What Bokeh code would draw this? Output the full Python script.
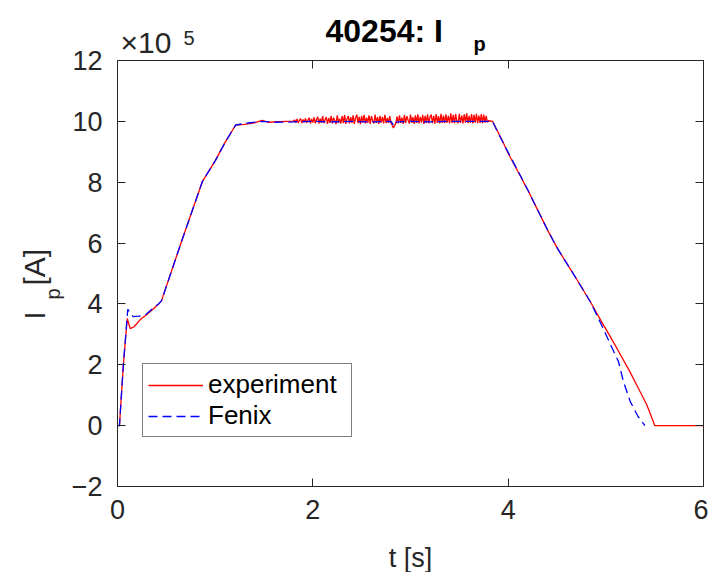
import numpy as np
from bokeh.plotting import figure
from bokeh.models import Range1d, LinearAxis, FixedTicker, Label, Legend, LegendItem
from bokeh.embed import file_html
from bokeh.resources import INLINE

# ---------------- data (Ip in units of 1e5 A) ----------------
t_exp_start = [0.0, 0.02, 0.06, 0.10, 0.13, 0.17, 0.235, 0.30, 0.36, 0.42, 0.45,
               0.65, 0.87, 1.00, 1.10, 1.21, 1.30, 1.40, 1.48, 1.55, 1.65, 1.75]
ip_exp_start = [0.0, 0.0, 2.0, 3.52, 3.19, 3.25, 3.49, 3.65, 3.82, 4.00, 4.10,
                6.00, 8.03, 8.70, 9.30, 9.88, 9.90, 9.95, 10.03, 9.97, 9.99, 10.00]

# noisy flat-top, sampled every 0.0125 s from 1.80 s to 3.80 s
ip_exp_flat = [
    10.00, 10.05, 9.96, 10.08, 9.95, 10.03, 10.09, 9.94, 10.06, 9.97,
    10.10, 9.95, 10.04, 10.12, 9.93, 10.08, 9.96, 10.13, 9.94, 10.06,
    10.15, 9.93, 10.09, 9.95, 10.17, 9.94, 10.05, 10.14, 9.92, 10.11,
    9.95, 10.18, 9.93, 10.12, 10.03, 9.91, 10.20, 9.95, 10.09, 9.93,
    10.17, 9.94, 10.21, 9.92, 10.08, 10.18, 9.93, 10.14, 9.95, 10.20,
    9.92, 10.11, 10.22, 9.94, 10.15, 9.91, 10.18, 9.96, 10.21, 9.93,
    10.12, 9.95, 10.20, 9.92, 10.17, 10.03, 9.93, 10.22, 9.95, 10.14,
    9.92, 10.18, 9.96, 10.15, 9.93, 10.21, 9.94, 10.11, 9.95, 10.17,
    9.94, 9.88, 9.78, 9.86, 9.95, 10.16, 9.93, 10.20, 9.95, 10.12,
    9.92, 10.21, 9.94, 10.17, 10.04, 9.93, 10.22, 9.95, 10.14, 9.92,
    10.20, 9.95, 10.23, 9.93, 10.15, 9.96, 10.21, 9.92, 10.18, 9.95,
    10.23, 9.93, 10.14, 10.22, 9.94, 10.18, 9.92, 10.24, 9.95, 10.17,
    9.93, 10.25, 9.95, 10.19, 9.94, 10.23, 9.96, 10.18, 9.93, 10.26,
    9.95, 10.21, 9.93, 10.24, 10.00, 9.94, 10.25, 9.95, 10.19, 9.93,
    10.23, 9.96, 10.26, 9.94, 10.18, 9.95, 10.24, 9.93, 10.21, 9.96,
    10.25, 9.94, 10.19, 9.95, 10.24, 9.93, 10.22, 9.96, 10.18, 9.97,
    10.02]
t_exp_flat = list(np.round(1.80 + 0.0125 * np.arange(len(ip_exp_flat)), 4))

t_exp_end = [3.84, 3.90, 3.95, 4.00, 4.05, 4.10, 4.20, 4.30, 4.40, 4.50, 4.60,
             4.70, 4.84, 4.95, 5.05, 5.15, 5.25, 5.35, 5.42, 5.46, 5.49, 5.50, 6.00]
ip_exp_end = [10.00, 9.62, 9.30, 8.95, 8.65, 8.35, 7.75, 7.10, 6.45, 5.85, 5.33,
              4.82, 4.08, 3.45, 2.90, 2.33, 1.75, 1.12, 0.68, 0.35, 0.10, 0.0, 0.0]

t_exp = t_exp_start + t_exp_flat + t_exp_end
ip_exp = ip_exp_start + ip_exp_flat + ip_exp_end

t_fenix = [0.0, 0.02, 0.06, 0.105, 0.16, 0.22, 0.29, 0.36, 0.42, 0.45, 0.65, 0.87,
           1.00, 1.10, 1.21, 1.30, 1.48, 1.60, 1.80, 2.00, 2.20, 2.40, 2.60, 2.80,
           2.83, 2.86, 3.00, 3.20, 3.40, 3.60, 3.84, 3.90, 4.00, 4.10, 4.20, 4.30,
           4.40, 4.50, 4.60, 4.70, 4.84, 4.95, 5.05, 5.13, 5.18, 5.25, 5.33, 5.40]
ip_fenix = [0.0, 0.0, 2.0, 3.82, 3.58, 3.60, 3.65, 3.85, 4.00, 4.10, 6.00, 8.03,
            8.70, 9.30, 9.88, 9.93, 10.00, 9.97, 9.98, 10.00, 9.98, 10.00, 9.98, 10.00,
            9.85, 9.98, 10.00, 9.98, 10.00, 10.00, 10.00, 9.60, 8.98, 8.37, 7.75, 7.10,
            6.45, 5.85, 5.33, 4.82, 4.08, 3.35, 2.65, 2.10, 1.45, 0.79, 0.30, 0.0]

x_ticks = [0, 2, 4, 6]
y_ticks = [-2, 0, 2, 4, 6, 8, 10, 12]
x_lim = (0, 6)
y_lim = (-2, 12)

FONT = "Liberation Sans"
AX = "#262626"
W, H = 708, 572
# axes box in pixels: left 117, right 703, top 60, bottom 486
px_per_x = (703 - 117) / (x_lim[1] - x_lim[0])
px_per_y = (486 - 60) / (y_lim[1] - y_lim[0])
x_rng = Range1d(x_lim[0] - 117 / px_per_x, x_lim[1] + (W - 703) / px_per_x)
y_rng = Range1d(y_lim[0] - (H - 486) / px_per_y, y_lim[1] + 60 / px_per_y)

p = figure(width=W, height=H, output_backend="svg", toolbar_location=None,
           x_range=x_rng, y_range=y_rng, x_axis_location=None, y_axis_location=None,
           min_border=0, background_fill_color="white", border_fill_color="white")
p.outline_line_color = None
p.grid.visible = False

ax_b = LinearAxis(fixed_location=y_lim[0], bounds=x_lim, ticker=FixedTicker(ticks=x_ticks))
ax_t = LinearAxis(fixed_location=y_lim[1], bounds=x_lim, ticker=FixedTicker(ticks=x_ticks))
ax_l = LinearAxis(fixed_location=x_lim[0], bounds=y_lim, ticker=FixedTicker(ticks=y_ticks))
ax_r = LinearAxis(fixed_location=x_lim[1], bounds=y_lim, ticker=FixedTicker(ticks=y_ticks))
p.add_layout(ax_b, "below")
p.add_layout(ax_t, "above")
p.add_layout(ax_l, "left")
p.add_layout(ax_r, "right")

for ax in (ax_b, ax_t, ax_l, ax_r):
    ax.axis_line_color = AX
    ax.major_tick_line_color = AX
    ax.major_tick_in = 8
    ax.major_tick_out = 0
    ax.minor_tick_line_color = None
    ax.major_label_text_font = FONT
    ax.major_label_text_font_size = "27px"
    ax.major_label_text_color = AX
for ax in (ax_t, ax_r):
    ax.major_label_text_color = None

ax_b.major_label_standoff = 13
ax_l.major_label_standoff = 15

r_exp = p.line(t_exp, ip_exp, line_color="#ff0000", line_width=1.3)
r_fen = p.line(t_fenix, ip_fenix, line_color="#0000ff", line_width=1.3,
               line_dash="9 5")

legend = Legend(items=[LegendItem(label="experiment", renderers=[r_exp]),
                       LegendItem(label="Fenix", renderers=[r_fen])],
                location=(142, H - 437), orientation="vertical",
                label_text_font=FONT, label_text_font_size="26px",
                label_text_color="black", glyph_width=55, glyph_height=30,
                label_height=30, label_width=138, spacing=0, padding=5, margin=0,
                label_standoff=5, border_line_color="black",
                border_line_width=1, background_fill_color="white",
                background_fill_alpha=1.0)
p.add_layout(legend)

def lab(x, y, text, size, bold=False, angle=0.0, color=AX, align="left"):
    # x, y: canvas pixels measured from the top-left corner
    p.add_layout(Label(x=x, y=H - y, x_units="screen", y_units="screen", text=text,
                       text_font=FONT, text_font_size=size,
                       text_font_style="bold" if bold else "normal",
                       text_color=color, text_align=align,
                       text_baseline="alphabetic", angle=angle))

# multiplier
lab(120, 42, "\u00d710", "30px")
lab(183, 37, "5", "20px")
# title
lab(325, 30, "40254: I", "32px", bold=True, color="black")
lab(473, 43, "p", "20px", bold=True, color="black")
# y-axis label I_p [A]
lab(34, 319, "I", "29px", angle=np.pi / 2)
lab(52, 299, "p", "20px", angle=np.pi / 2)
lab(34, 285, "[A]", "30px", angle=np.pi / 2)
# x-axis label
lab(410, 557, "t [s]", "27px", align="center")

open("out.html", "w").write(file_html(p, INLINE))
